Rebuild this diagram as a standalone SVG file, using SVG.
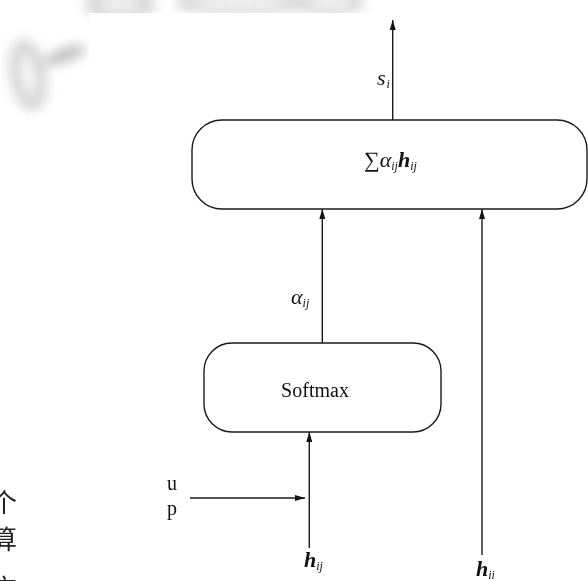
<svg xmlns="http://www.w3.org/2000/svg" width="588" height="581" viewBox="0 0 588 581">
<style>
.box{fill:#fff;stroke:#1a1a1a;stroke-width:1.4}
.ln{stroke:#1a1a1a;stroke-width:1.4;fill:none}
.t{font-family:"Liberation Serif","Noto Sans CJK SC",serif;fill:#111}
.c{font-family:"Noto Sans CJK SC",serif;fill:#222}
.m{font-family:"Liberation Serif",serif;font-style:italic;fill:#111}
</style>
<defs>
<marker id="ah" viewBox="0 0 10 6" refX="10" refY="3" markerWidth="10" markerHeight="6" markerUnits="userSpaceOnUse" orient="auto">
<path d="M0,0 L10,3 L0,6 Z" fill="#111"/>
</marker>
<filter id="blur" x="-50%" y="-50%" width="200%" height="200%"><feGaussianBlur stdDeviation="6"/></filter>
</defs>
<rect width="588" height="581" fill="#fff"/>
<g id="watermark" filter="url(#blur)" fill="none" stroke="#c4c4c4" opacity="0.75">
<ellipse cx="28" cy="75" rx="12" ry="30" stroke-width="12" transform="rotate(-10 28 75)"/>
<ellipse cx="65" cy="55" rx="22" ry="7" fill="#a8a8a8" stroke="none" transform="rotate(-20 65 55)"/>
<ellipse cx="120" cy="5" rx="30" ry="10" stroke-width="10"/>
<ellipse cx="240" cy="2" rx="60" ry="9" stroke-width="8"/>
<ellipse cx="330" cy="2" rx="30" ry="9" stroke-width="8"/>
</g>
<rect x="89" y="13" width="499" height="568" fill="#fff"/>
<g id="side-text">
<text class="c" x="-9" y="512" font-size="26">个</text>
<text class="c" x="-9" y="549" font-size="26">算</text>
<text class="c" x="-9" y="598" font-size="26">方</text>
</g>
<g id="connectors">
<line class="ln" x1="392.7" y1="120" x2="392.7" y2="20" marker-end="url(#ah)"/>
<line class="ln" x1="322.3" y1="343" x2="322.3" y2="209" marker-end="url(#ah)"/>
<line class="ln" x1="482" y1="555" x2="482" y2="209" marker-end="url(#ah)"/>
<line class="ln" x1="309.3" y1="548" x2="309.3" y2="432" marker-end="url(#ah)"/>
<line class="ln" x1="190" y1="498" x2="305" y2="498" marker-end="url(#ah)"/>
<text class="m" x="377" y="85" font-size="22">s<tspan font-size="12" dy="3" dx="1">i</tspan></text>
<text class="m" x="291" y="304" font-size="22">α<tspan font-size="12" dy="3">ij</tspan></text>
<text class="m" x="304" y="567" font-size="22" font-weight="bold">h<tspan font-size="12" dy="3" font-weight="normal">ij</tspan></text>
<text class="m" x="476" y="576" font-size="22" font-weight="bold">h<tspan font-size="12" dy="3" font-weight="normal">ii</tspan></text>
<text class="t" x="167" y="490" font-size="20">u</text>
<text class="t" x="167" y="515" font-size="20">p</text>
</g>
<g id="sum-node">
<rect class="box" x="192" y="120" width="395" height="89" rx="30" ry="30"/>
<text class="t" x="364" y="167" font-size="22">∑<tspan class="m">α</tspan><tspan class="m" font-size="12" dy="3">ij</tspan><tspan class="m" font-weight="bold" dy="-3">h</tspan><tspan class="m" font-size="12" dy="3">ij</tspan></text>
</g>
<g id="softmax-node">
<rect class="box" x="204" y="343" width="237" height="89" rx="28" ry="28"/>
<text class="t" x="315" y="397" font-size="20" text-anchor="middle">Softmax</text>
</g>
</svg>
